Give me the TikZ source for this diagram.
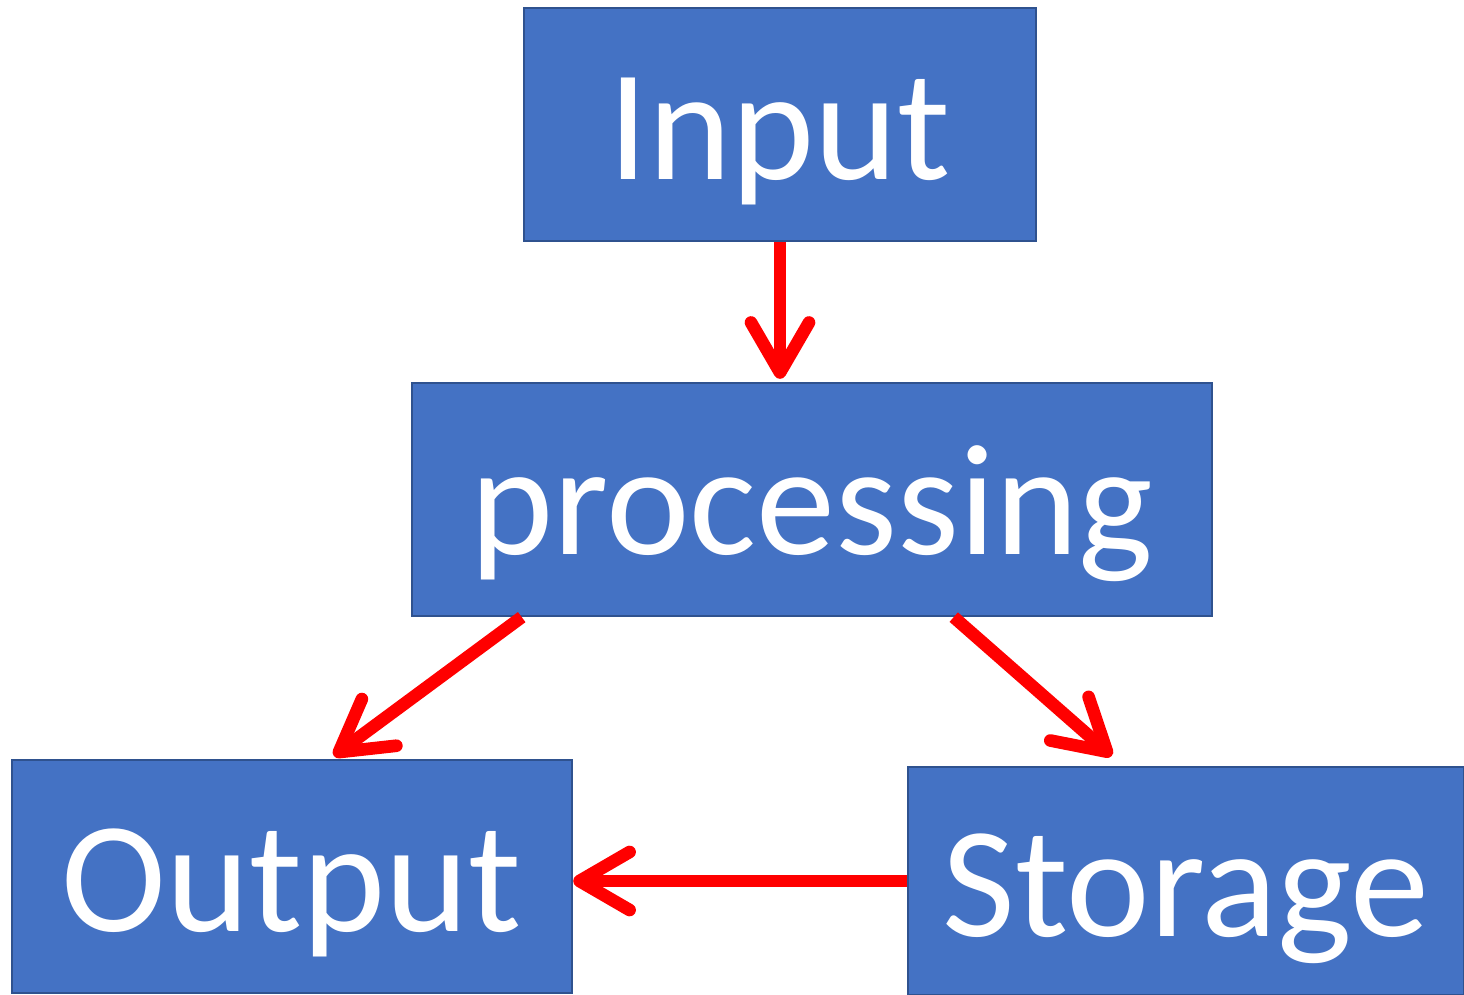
\documentclass[tikz,border=0pt]{standalone}
\usepackage{fontspec}
\setmainfont{Carlito}
\usetikzlibrary{arrows.meta,calc}
\definecolor{boxblue}{HTML}{4472C4}
\definecolor{boxedge}{HTML}{2F528F}

\begin{document}
\begin{tikzpicture}[x=0.01cm,y=-0.01cm,font=\fontsize{45}{54}\selectfont,
    box/.style={draw=boxedge,line width=0.6pt,fill=boxblue,text=white,
      inner sep=0pt,text height=1.5cm,text depth=0.4cm},
    flow/.style={red,line width=3.6pt,
      -{Straight Barb[length=0.5cm,width=0.58cm,round]}}]
  \useasboundingbox (0,0) rectangle (1464,995);
  \node[box,minimum width=5.12cm,minimum height=2.33cm] (input) at (780,124.5) {Input};
  \node[box,minimum width=8cm,minimum height=2.33cm] (proc) at (812,499.5) {processing};
  \node[box,minimum width=5.6cm,minimum height=2.33cm] (output) at (292,876.5) {Output};
  \node[box,minimum width=5.56cm,minimum height=2.28cm] (storage) at (1186,881) {Storage};
  \coordinate (tip1) at ($(proc.north -| input.south)+(0,-3)$);
  \coordinate (tail2) at ($(proc.south west)+(111,0)$);
  \coordinate (tip2) at ($(output.north west)+(323,-3)$);
  \coordinate (tail3) at ($(proc.south west)+(543,0)$);
  \coordinate (tip3) at ($(storage.north west)+(205,-10)$);
  \draw[flow] (input.south) -- (tip1);
  \draw[flow] (tail2) -- (tip2);
  \draw[flow] (tail3) -- (tip3);
  \draw[flow] (storage.west) -- (storage.west -| output.east);
\end{tikzpicture}
\end{document}
